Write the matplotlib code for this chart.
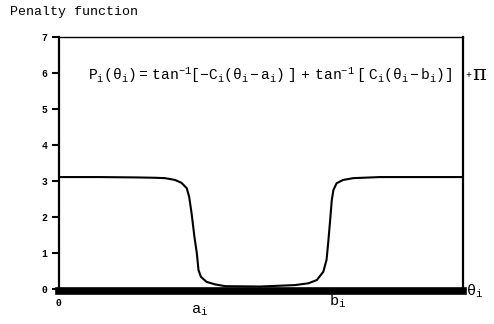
import matplotlib
matplotlib.use('Agg')
import matplotlib.pyplot as plt
from matplotlib.transforms import blended_transform_factory

plt.rcParams['font.family'] = ['Liberation Mono', 'DejaVu Sans Mono']
plt.rcParams['mathtext.fontset'] = 'custom'
plt.rcParams['mathtext.rm'] = 'Liberation Mono'
plt.rcParams['mathtext.it'] = 'Liberation Mono'
plt.rcParams['mathtext.bf'] = 'Liberation Mono:bold'

# Data (theta in arbitrary units 0..100)
theta = [0, 10.2, 19.4, 24.0, 26.3, 28.8, 30.4, 31.7, 32.3, 32.9, 33.6,
         34.2, 34.6, 35.2, 36.6, 38.7, 41.2, 49.8, 58.5, 61.8, 63.9, 65.5,
         66.3, 66.7, 67.2, 67.6, 68.0, 68.8, 70.4, 72.9, 79.5, 100]
penalty = [3.11, 3.11, 3.10, 3.09, 3.08, 3.03, 2.95, 2.80, 2.56, 2.10, 1.45,
           0.99, 0.53, 0.34, 0.20, 0.13, 0.08, 0.07, 0.11, 0.16, 0.25, 0.48,
           0.81, 1.27, 1.92, 2.47, 2.75, 2.94, 3.03, 3.08, 3.11, 3.11]

y_ticks = [0, 1, 2, 3, 4, 5, 6, 7]
a_pos, b_pos = 35.0, 69.0

fig = plt.figure(figsize=(4.94, 3.24), dpi=100)
ax = fig.add_axes([0.1188, 0.1012, 0.8178, 0.7846])

ax.plot(theta, penalty, color='black', lw=1.5)

ax.set_xlim(0, 100)
ax.set_ylim(-0.06, 7)
ax.set_yticks(y_ticks)
ax.set_yticklabels([str(t) for t in y_ticks], fontsize=7, fontweight='bold')
ax.set_xticks([0])
ax.set_xticklabels(['0'], fontsize=7, fontweight='bold')
ax.tick_params(axis='y', direction='out', length=5, width=1.5, pad=3)
ax.tick_params(axis='x', direction='out', length=0, pad=5)

ax.spines['left'].set_linewidth(1.6)
ax.spines['right'].set_linewidth(1.6)
ax.spines['top'].set_linewidth(1.0)
ax.spines['bottom'].set_linewidth(5.5)

trans = blended_transform_factory(ax.transData, fig.transFigure)
ax.text(a_pos, 1 - 311 / 324, r'$\mathrm{a_i}$', transform=trans,
        ha='center', va='center', fontsize=11)
ax.text(b_pos, 1 - 301 / 324, r'$\mathrm{b_i}$', transform=trans,
        ha='center', va='center', fontsize=11)
fig.text(466 / 494, 1 - 291 / 324, r'$\mathrm{θ_i}$', ha='left', va='center',
         fontsize=11)

fig.text(10 / 494, 1 - 12 / 324, 'Penalty function', ha='left', va='center',
         fontsize=9.5)

formula = (r'$\mathrm{P_i(θ_i)=\ tan^{-1}[-C_i(θ_i-a_i)\ ]\ +\ '
           r'tan^{-1}\ [\ C_i(θ_i-b_i)]}$')
fig.text(88 / 494, 1 - 75 / 324, formula, ha='left', va='center', fontsize=10.5)
fig.text(465 / 494, 1 - 75 / 324, '+', ha='left', va='center', fontsize=7)
fig.text(472 / 494, 1 - 74 / 324, 'π', ha='left', va='center', fontsize=15,
         family='DejaVu Serif')

fig.savefig('out.png', dpi=100)
